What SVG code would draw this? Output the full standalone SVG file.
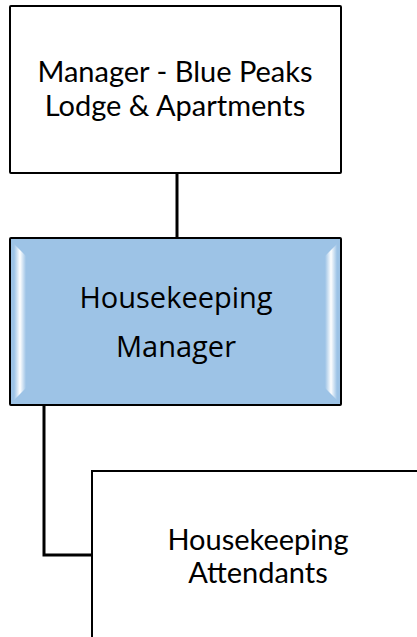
<svg xmlns="http://www.w3.org/2000/svg" width="417" height="637" viewBox="0 0 417 637">
<style>
.box{fill:#fff;stroke:#000;stroke-width:2}
.lbl{font-family:Lato,"Open Sans",sans-serif;font-size:29px;fill:#000;text-anchor:middle}
.lbl2{font-family:"Open Sans","Noto Sans",sans-serif;font-size:29px;fill:#000;text-anchor:middle}
.lbl3{font-family:Lato,"Liberation Sans",sans-serif;font-size:29px;fill:#000;text-anchor:middle}
.conn{fill:none;stroke:#000;stroke-width:3}
</style>
<defs>
<linearGradient id="bevL" x1="0" y1="0" x2="1" y2="0">
<stop offset="0" stop-color="#9dc3e6"/>
<stop offset="0.5" stop-color="#ffffff"/>
<stop offset="1" stop-color="#9dc3e6"/>
</linearGradient>
</defs>
<g id="connectors">
<path class="conn" d="M177,173 V238"/>
<path class="conn" d="M44,406 V555 H92"/>
</g>
<g id="node-manager">
<rect class="box" x="10" y="6" width="331" height="167" rx="1"/>
<text class="lbl" x="175" y="82">Manager - Blue Peaks</text>
<text class="lbl" x="175" y="116">Lodge &amp; Apartments</text>
</g>
<g id="node-hk-manager">
<rect x="10" y="238" width="331" height="167" rx="1" fill="#9dc3e6" stroke="#000" stroke-width="2"/>
<polygon points="14,244 26,256 26,388 14,400" fill="url(#bevL)"/>
<polygon points="337,244 325,256 325,388 337,400" fill="url(#bevL)"/>
<text class="lbl2" x="176" y="308">Housekeeping</text>
<text class="lbl2" x="176" y="357">Manager</text>
</g>
<g id="node-hk-attendants">
<rect class="box" x="92" y="471" width="332" height="168"/>
<text class="lbl3" x="258" y="550">Housekeeping</text>
<text class="lbl3" x="258" y="583">Attendants</text>
</g>
</svg>
